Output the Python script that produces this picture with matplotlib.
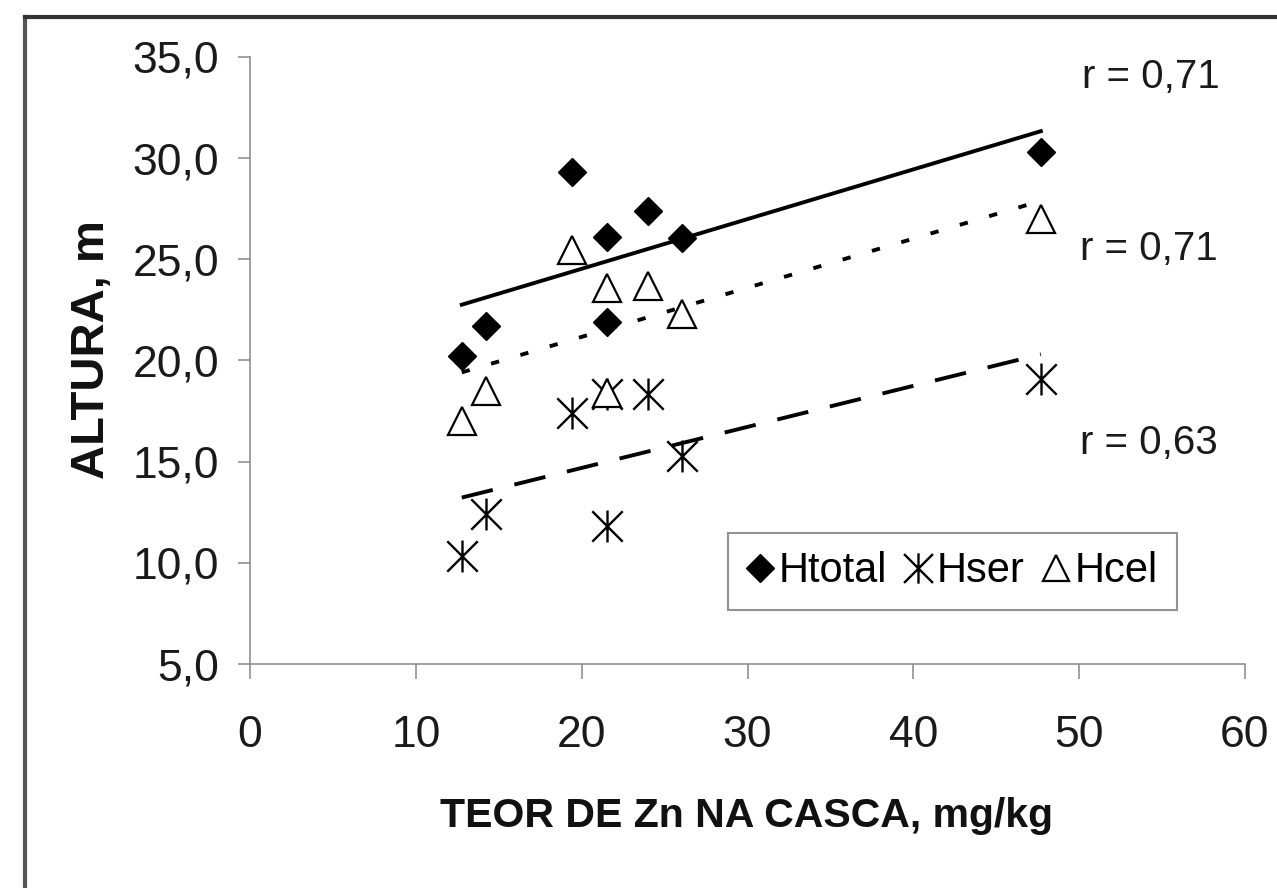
import matplotlib
matplotlib.use("Agg")
import matplotlib.pyplot as plt
import numpy as np
from matplotlib.path import Path
from matplotlib.lines import Line2D
from matplotlib.ticker import FuncFormatter

# ---- data ----
zn = [12.77, 14.23, 19.4, 21.55, 21.55, 24.0, 26.04, 47.69]
htotal = [20.2, 21.7, 29.3, 26.1, 21.9, 27.4, 26.05, 30.3]
hser = [10.35, 12.4, 17.4, 18.35, 11.8, 18.35, 15.3, 19.1]
hcel = [17.0, 18.5, 25.45, 23.6, 18.4, 23.7, 22.3, 27.0]
series_names = ["Htotal", "Hser", "Hcel"]
r_labels = ["r = 0,71", "r = 0,71", "r = 0,63"]
x_ticks = [0, 10, 20, 30, 40, 50, 60]
y_ticks = [5, 10, 15, 20, 25, 30, 35]

plt.rcParams['font.family'] = ['Liberation Sans', 'DejaVu Sans']
plt.rcParams['lines.scale_dashes'] = False

fig = plt.figure(figsize=(12.77, 8.88), dpi=100)
ax = fig.add_axes([250/1277, 1-664/888, 995/1277, (664-57)/888])

# custom asterisk marker (X with vertical bar)
star_path = Path(
    [(-1, -1), (1, 1), (-1, 1), (1, -1), (0, -1.05), (0, 1.05)],
    [Path.MOVETO, Path.LINETO, Path.MOVETO, Path.LINETO, Path.MOVETO, Path.LINETO])

x = np.array(zn)
xs = np.array([x.min(), x.max()])

ax.plot(zn, htotal, ls='none', marker='D', ms=14.5, mfc='black', mec='black',
        label=series_names[0], zorder=4)
ax.plot(zn, hser, ls='none', marker=star_path, ms=23, mfc='none', mec='black',
        mew=1.7, label=series_names[1], zorder=4)
ax.plot(zn, hcel, ls='none', marker='^', ms=20, mfc='white', mec='black',
        mew=1.6, label=series_names[2], zorder=4)

# trend lines
p1 = np.polyfit(x, htotal, 1)
p2 = np.polyfit(x, hser, 1)
p3 = np.polyfit(x, hcel, 1)
ax.plot(xs, np.polyval(p1, xs), color='black', lw=2.8, ls='-', zorder=3)
ax.plot(xs, np.polyval(p3, xs), color='black', lw=2.8, ls=(0, (6, 16)), zorder=3)
ax.plot(xs, np.polyval(p2, xs), color='black', lw=2.8, ls=(0, (23, 16)), zorder=3)

ax.set_xlim(0, 60)
ax.set_ylim(5, 35)
ax.set_xticks(x_ticks)
ax.set_yticks(y_ticks)
ax.yaxis.set_major_formatter(FuncFormatter(lambda v, p: f"{v:.1f}".replace('.', ',')))

for s in ['top', 'right']:
    ax.spines[s].set_visible(False)
for s in ['left', 'bottom']:
    ax.spines[s].set_color('#888888')
    ax.spines[s].set_linewidth(1.1)

ax.tick_params(axis='y', direction='out', length=9, width=1.1, color='#888888',
               pad=13, labelsize=32, labelcolor='#1a1a1a')
ax.tick_params(axis='x', direction='out', length=11, width=1.1, color='#888888',
               pad=26, labelsize=32, labelcolor='#1a1a1a')

# axis labels
fig.text(92/1277, 1-350/888, "ALTURA, m", rotation=90, ha='center', va='center',
         fontsize=34, fontweight='bold', color='#111111')
fig.text(746/1277, 1-827/888, "TEOR DE Zn NA CASCA, mg/kg", ha='center', va='baseline',
         fontsize=29.5, fontweight='bold', color='#111111')

# r labels
r_pos = [(50.2, 33.45), (50.05, 24.95), (50.05, 15.4)]
for (px, py), t in zip(r_pos, r_labels):
    ax.text(px, py, t, ha='left', va='baseline', fontsize=29, color='#1a1a1a')

leg = ax.legend(loc='center', bbox_to_anchor=(952.5/1277, 1-571.5/888),
                bbox_transform=fig.transFigure, ncol=3, fontsize=30,
                frameon=True, fancybox=False, edgecolor='#777777',
                handlelength=0.6, handletextpad=0.15, columnspacing=0.45,
                borderpad=0.45, markerscale=0.95)
leg.get_frame().set_linewidth(1.5)

# outer border
fig.add_artist(Line2D([25/1277, 25/1277], [0, 1-17/888], transform=fig.transFigure,
                      color='#555555', lw=3))
fig.add_artist(Line2D([25/1277, 1], [1-17/888, 1-17/888], transform=fig.transFigure,
                      color='#333333', lw=3))

fig.savefig("out.png", dpi=100)
